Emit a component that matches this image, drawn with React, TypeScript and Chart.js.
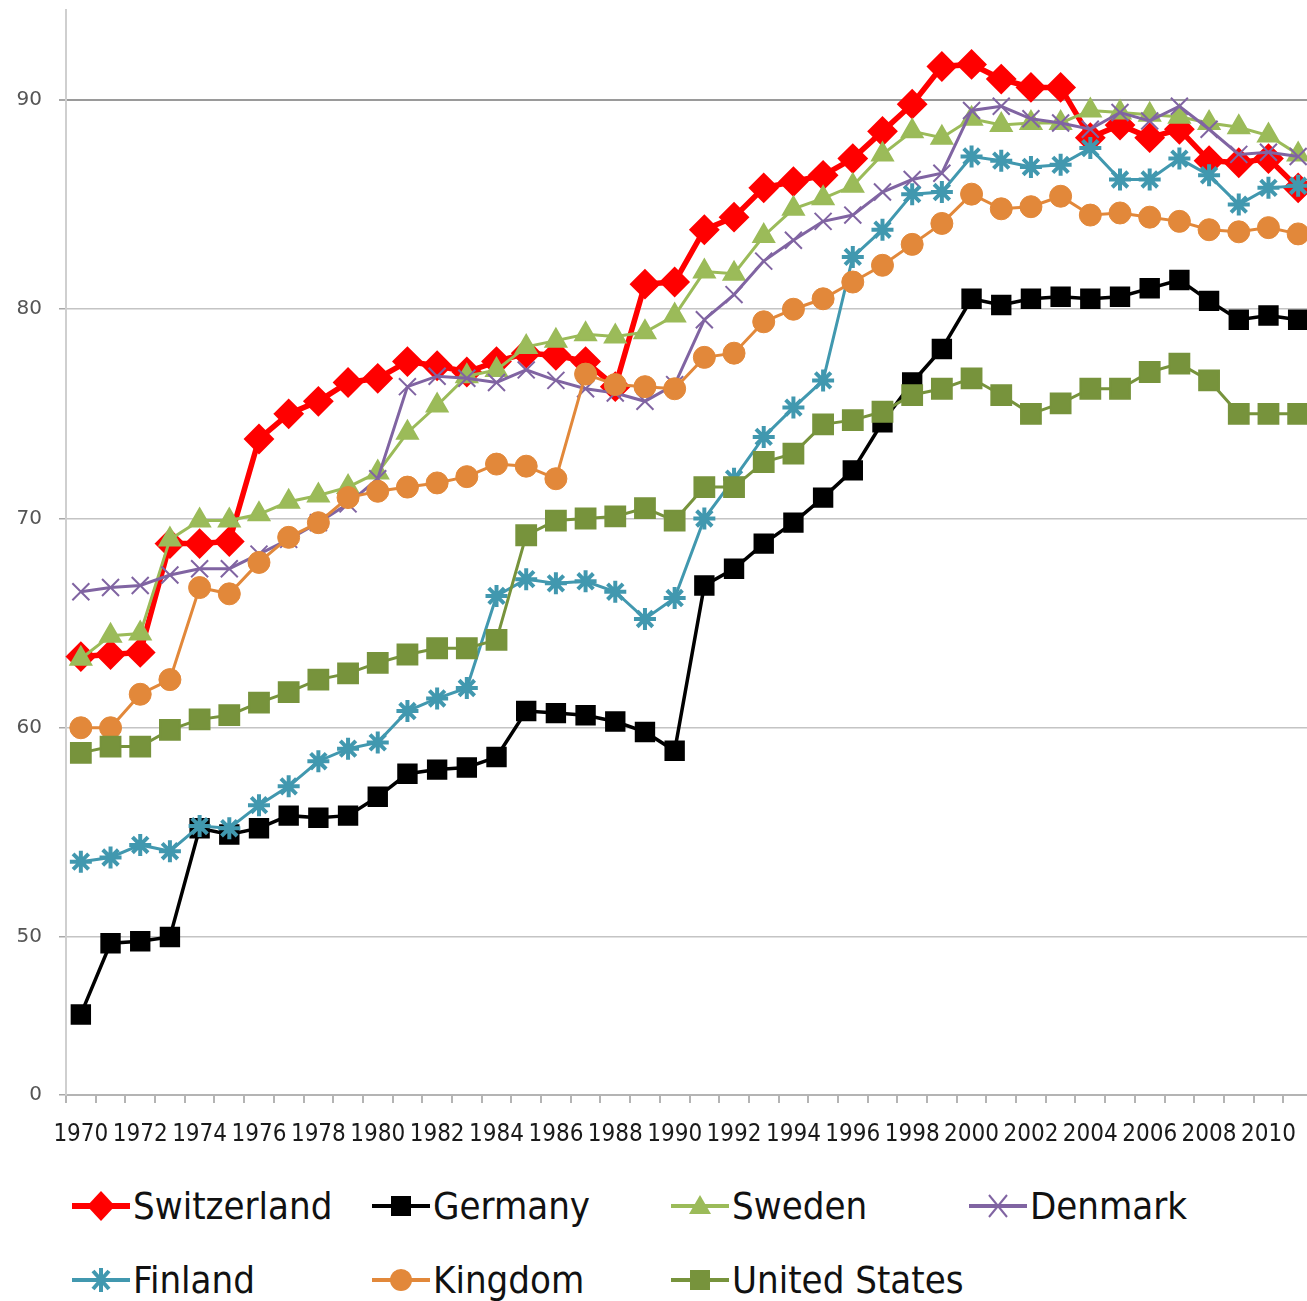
import React, { useEffect, useRef } from "react";
import { Chart, registerables } from "chart.js";

Chart.register(...registerables);

const years = [
  "1970", "1971", "1972", "1973", "1974", "1975", "1976", "1977", "1978", "1979",
  "1980", "1981", "1982", "1983", "1984", "1985", "1986", "1987", "1988", "1989",
  "1990", "1991", "1992", "1993", "1994", "1995", "1996", "1997", "1998", "1999",
  "2000", "2001", "2002", "2003", "2004", "2005", "2006", "2007", "2008", "2009",
  "2010", "2011",
];

const switzerland = [
  63.4, 63.5, 63.6, 68.8, 68.8, 68.9, 73.8, 75.0, 75.6, 76.5,
  76.7, 77.5, 77.3, 77.0, 77.5, 77.9, 77.8, 77.5, 76.3, 81.2,
  81.3, 83.8, 84.4, 85.8, 86.1, 86.4, 87.2, 88.5, 89.8, 91.6,
  91.7, 91.0, 90.6, 90.6, 88.2, 88.8, 88.2, 88.6, 87.1, 87.0,
  87.2, 85.8,
];

const germany = [
  46.3, 49.7, 49.8, 50.0, 55.2, 54.9, 55.2, 55.8, 55.7, 55.8,
  56.7, 57.8, 58.0, 58.1, 58.6, 60.8, 60.7, 60.6, 60.3, 59.8,
  58.9, 66.8, 67.6, 68.8, 69.8, 71.0, 72.3, 74.6, 76.5, 78.1,
  80.5, 80.2, 80.5, 80.6, 80.5, 80.6, 81.0, 81.4, 80.4, 79.5,
  79.7, 79.5,
];

const sweden = [
  63.3, 64.4, 64.5, 69.0, 69.9, 69.9, 70.2, 70.8, 71.1, 71.5,
  72.2, 74.1, 75.4, 76.8, 77.1, 78.2, 78.5, 78.8, 78.7, 78.9,
  79.7, 81.8, 81.7, 83.5, 84.8, 85.3, 85.9, 87.4, 88.5, 88.2,
  89.1, 88.8, 88.9, 88.9, 89.5, 89.4, 89.3, 89.2, 88.9, 88.7,
  88.3, 87.4,
];

const denmark = [
  66.5, 66.7, 66.8, 67.3, 67.6, 67.6, 68.3, 69.0, 69.8, 70.7,
  71.9, 76.3, 76.8, 76.7, 76.5, 77.1, 76.6, 76.2, 76.0, 75.6,
  76.4, 79.5, 80.7, 82.3, 83.3, 84.2, 84.5, 85.6, 86.2, 86.5,
  89.5, 89.7, 89.1, 88.9, 88.6, 89.4, 89.0, 89.7, 88.6, 87.4,
  87.5, 87.3,
];

const finland = [
  53.6, 53.8, 54.4, 54.1, 55.3, 55.2, 56.3, 57.2, 58.4, 59.0,
  59.3, 60.8, 61.4, 61.9, 66.3, 67.1, 66.9, 67.0, 66.5, 65.2,
  66.2, 70.0, 71.9, 73.9, 75.3, 76.6, 82.5, 83.8, 85.5, 85.6,
  87.3, 87.1, 86.8, 86.9, 87.7, 86.2, 86.2, 87.2, 86.4, 85.0,
  85.8, 85.9,
];

const kingdom = [
  60.0, 60.0, 61.6, 62.3, 66.7, 66.4, 67.9, 69.1, 69.8, 71.0,
  71.3, 71.5, 71.7, 72.0, 72.6, 72.5, 71.9, 76.9, 76.4, 76.3,
  76.2, 77.7, 77.9, 79.4, 80.0, 80.5, 81.3, 82.1, 83.1, 84.1,
  85.5, 84.8, 84.9, 85.4, 84.5, 84.6, 84.4, 84.2, 83.8, 83.7,
  83.9, 83.6,
];

const unitedStates = [
  58.8, 59.1, 59.1, 59.9, 60.4, 60.6, 61.2, 61.7, 62.3, 62.6,
  63.1, 63.5, 63.8, 63.8, 64.2, 69.2, 69.9, 70.0, 70.1, 70.5,
  69.9, 71.5, 71.5, 72.7, 73.1, 74.5, 74.7, 75.1, 75.9, 76.2,
  76.7, 75.9, 75.0, 75.5, 76.2, 76.2, 77.0, 77.4, 76.6, 75.0,
  75.0, 75.0,
];

// y axis: bottom of the (broken) axis is labelled "0"
const yTickValues = [42.45, 50, 60, 70, 80, 90];
const yTickLabels = ["0", "50", "60", "70", "80", "90"];

const seriesNames = ["Switzerland", "Germany", "Sweden", "Denmark", "Finland", "Kingdom", "United States"];
const seriesColors = ["#FF0000", "#000000", "#9BBB59", "#8064A2", "#4198AF", "#E2883A", "#77933C"];

const CONDENSED = '"DejaVu Sans Condensed", "Liberation Sans Narrow", "Open Sans", sans-serif';

function LegendMarker({ idx }: { idx: number }) {
  const c = seriesColors[idx];
  const cx = 29;
  const cy = 20;
  let marker: React.ReactNode = null;
  if (idx === 0) {
    marker = <polygon points={`${cx - 14},${cy} ${cx},${cy - 15} ${cx + 14},${cy} ${cx},${cy + 15}`} fill={c} />;
  } else if (idx === 1 || idx === 6) {
    marker = <rect x={cx - 10} y={cy - 10} width={20} height={20} fill={c} />;
  } else if (idx === 2) {
    marker = <polygon points={`${cx},${cy - 11} ${cx + 11},${cy + 8} ${cx - 11},${cy + 8}`} fill={c} />;
  } else if (idx === 3) {
    marker = (
      <g stroke={c} strokeWidth={2}>
        <line x1={cx - 9} y1={cy - 11} x2={cx + 9} y2={cy + 11} />
        <line x1={cx + 9} y1={cy - 11} x2={cx - 9} y2={cy + 11} />
      </g>
    );
  } else if (idx === 4) {
    marker = (
      <g stroke={c} strokeWidth={4}>
        <line x1={cx - 10} y1={cy} x2={cx + 10} y2={cy} />
        <line x1={cx} y1={cy - 12} x2={cx} y2={cy + 12} />
        <line x1={cx - 8} y1={cy - 9} x2={cx + 8} y2={cy + 9} />
        <line x1={cx + 8} y1={cy - 9} x2={cx - 8} y2={cy + 9} />
      </g>
    );
  } else if (idx === 5) {
    marker = <circle cx={cx} cy={cy} r={11} fill={c} />;
  }
  return (
    <svg width={60} height={40} style={{ display: "block" }}>
      <line x1={0} y1={cy} x2={58} y2={cy} stroke={c} strokeWidth={idx === 0 ? 6 : 4} />
      {marker}
    </svg>
  );
}

const legendPos = [
  { x: 72, y: 1186 },
  { x: 372, y: 1186 },
  { x: 671, y: 1186 },
  { x: 969, y: 1186 },
  { x: 72, y: 1260 },
  { x: 372, y: 1260 },
  { x: 671, y: 1260 },
];

export default function App() {
  const canvasRef = useRef<HTMLCanvasElement | null>(null);

  useEffect(() => {
    const canvas = canvasRef.current;
    if (!canvas) return;

    const styles = [
      { pointStyle: "rectRot", radius: 14, bw: 2, lw: 5.5 },
      { pointStyle: "rect", radius: 13, bw: 2, lw: 3.5 },
      { pointStyle: "triangle", radius: 12, bw: 2, lw: 3 },
      { pointStyle: "crossRot", radius: 12, bw: 2, lw: 3 },
      { pointStyle: "star", radius: 11, bw: 4, lw: 3 },
      { pointStyle: "circle", radius: 11, bw: 1, lw: 3 },
      { pointStyle: "rect", radius: 14, bw: 2, lw: 3 },
    ];
    const allData = [switzerland, germany, sweden, denmark, finland, kingdom, unitedStates];

    const datasets = allData.map((d, i) => ({
      label: seriesNames[i],
      data: d,
      borderColor: seriesColors[i],
      backgroundColor: seriesColors[i],
      pointBackgroundColor: seriesColors[i],
      pointBorderColor: seriesColors[i],
      borderWidth: styles[i].lw,
      pointStyle: styles[i].pointStyle as any,
      pointRadius: styles[i].radius,
      pointBorderWidth: styles[i].bw,
      tension: 0,
      order: allData.length - 1 - i,
    }));

    const chart = new Chart(canvas, {
      type: "line",
      data: { labels: years, datasets },
      options: {
        animation: false,
        responsive: false,
        events: [],
        layout: { autoPadding: false, padding: { top: 10, left: 0, right: 0, bottom: 0 } },
        plugins: { legend: { display: false }, tooltip: { enabled: false } },
        scales: {
          x: {
            type: "category",
            offset: true,
            grid: {
              offset: true,
              drawOnChartArea: false,
              drawTicks: true,
              tickLength: 8,
              color: "#b4b4b4",
              lineWidth: 2,
            },
            border: { color: "#b4b4b4", width: 2 },
            ticks: {
              autoSkip: false,
              maxRotation: 0,
              minRotation: 0,
              padding: 17,
              color: "#1a1a1a",
              font: { family: CONDENSED, size: 24 },
              callback: (_v: any, i: number) => (i % 2 === 0 ? years[i] : ""),
            },
            afterFit: (s: any) => {
              s.height = 66;
              s.paddingLeft = 0;
              s.paddingRight = 0;
            },
          },
          y: {
            min: 42.45,
            max: 94.3,
            afterBuildTicks: (s: any) => {
              s.ticks = yTickValues.map((v) => ({ value: v }));
            },
            grid: {
              color: (ctx: any) =>
                ctx.index === 0 ? "rgba(0,0,0,0)" : ctx.tick && ctx.tick.value === 90 ? "#9a9a9a" : "#c4c4c4",
              lineWidth: (ctx: any) => (ctx.tick && ctx.tick.value === 90 ? 2 : 1.5),
              tickLength: 7,
              tickColor: "#a8a8a8",
            },
            border: { color: "#cfcfcf", width: 2 },
            ticks: {
              padding: 17,
              color: "#555555",
              font: { family: '"DejaVu Sans", sans-serif', size: 20 },
              callback: (_v: any, i: number) => yTickLabels[i],
            },
            afterFit: (s: any) => {
              s.width = 64;
              s.paddingTop = 0;
              s.paddingBottom = 0;
            },
          },
        },
      },
    });

    return () => {
      chart.destroy();
    };
  }, []);

  return (
    <div
      style={{
        position: "absolute",
        left: 0,
        top: 0,
        width: 1307,
        height: 1301,
        overflow: "hidden",
        background: "#ffffff",
      }}
    >
      <canvas
        ref={canvasRef}
        width={1311}
        height={1161}
        style={{ position: "absolute", left: 2, top: 0, width: 1311, height: 1161 }}
      />
      {seriesNames.map((name, i) => (
        <div
          key={name}
          style={{
            position: "absolute",
            left: legendPos[i].x,
            top: legendPos[i].y,
            display: "flex",
            alignItems: "center",
            height: 40,
            whiteSpace: "nowrap",
          }}
        >
          <LegendMarker idx={i} />
          <span
            style={{
              fontFamily: CONDENSED,
              fontSize: 38,
              color: "#111",
              marginLeft: 1,
              lineHeight: "40px",
            }}
          >
            {name}
          </span>
        </div>
      ))}
    </div>
  );
}
